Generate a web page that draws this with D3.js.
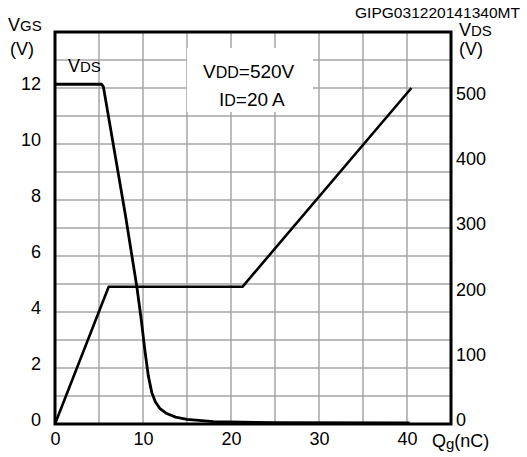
<!DOCTYPE html>
<html><head><meta charset="utf-8">
<script src="https://cdn.jsdelivr.net/npm/d3@7"></script>
<style>
html,body{margin:0;padding:0;background:#fff;}
svg{display:block;font-family:"Liberation Sans",Arial,sans-serif;}
</style></head>
<body>
<script>
// ---- data ----
const qgVgs = [0, 6.1, 21.3, 40.5];
const vgsValues = [0, 4.9, 4.9, 12.0];
const qgVds = [0, 5.3, 5.5, 8.0, 9.3, 9.8, 10.2, 10.6, 11.0, 11.4, 11.9, 12.7, 13.7, 15.0, 18.0, 25.0, 40.3];
const vdsValues = [520, 520, 516, 320, 210, 160, 114, 74, 48, 34, 24, 16, 10.5, 7, 3.5, 2, 1.5];
const xTicks = [0, 10, 20, 30, 40];
const vgsTicks = [0, 2, 4, 6, 8, 10, 12];
const vdsTicks = [0, 100, 200, 300, 400, 500];
const docCode = "GIPG031220141340MT";

const W = 527, H = 457;
const svg = d3.select("body").append("svg").attr("width", W).attr("height", H);
const L = 55, R = 451, T = 32, B = 424;
const x = d3.scaleLinear().domain([0, 45]).range([L, R]);
const yL = d3.scaleLinear().domain([0, 14]).range([B, T]);
const yR = d3.scaleLinear().domain([0, 600]).range([B, T]);

// grid
const grid = svg.append("g").attr("stroke", "#a6a6a6").attr("stroke-width", 1.5);
grid.selectAll("line.v").data(d3.range(5, 45, 5)).join("line")
  .attr("x1", d => x(d)).attr("x2", d => x(d)).attr("y1", T).attr("y2", B);
grid.selectAll("line.h").data(d3.range(1, 14, 1)).join("line")
  .attr("y1", d => yL(d)).attr("y2", d => yL(d)).attr("x1", L).attr("x2", R);

// white box behind annotation
svg.append("rect").attr("x", 187).attr("y", 48).attr("width", 126).attr("height", 64).attr("fill", "#fff");

// frame
svg.append("rect").attr("x", L).attr("y", T).attr("width", R - L).attr("height", B - T)
  .attr("fill", "none").attr("stroke", "#000").attr("stroke-width", 3);

// curves
const lineVgs = d3.line().x((d, i) => x(qgVgs[i])).y(d => yL(d));
svg.append("path").attr("d", lineVgs(vgsValues)).attr("fill", "none")
  .attr("stroke", "#000").attr("stroke-width", 2.6).attr("stroke-linejoin", "round");
const lineVds = d3.line().x((d, i) => x(qgVds[i])).y(d => yR(d));
svg.append("path").attr("d", lineVds(vdsValues)).attr("fill", "none")
  .attr("stroke", "#000").attr("stroke-width", 2.8).attr("stroke-linejoin", "round");

// axes (labels only)
const fs = 18;
const axL = d3.axisLeft(yL).tickValues(vgsTicks).tickSize(0).tickPadding(14);
svg.append("g").attr("transform", `translate(${L},0)`).call(axL)
  .call(g => g.select(".domain").remove())
  .selectAll("text").attr("font-size", fs).attr("font-family", "Liberation Sans, Arial").attr("fill", "#000").attr("dy", "0.1em");
const axR = d3.axisRight(yR).tickValues(vdsTicks).tickSize(0).tickPadding(5);
svg.append("g").attr("transform", `translate(${R},0)`).call(axR)
  .call(g => g.select(".domain").remove())
  .selectAll("text").attr("font-size", fs).attr("font-family", "Liberation Sans, Arial").attr("fill", "#000").attr("dy", "0.1em");
const axB = d3.axisBottom(x).tickValues(xTicks).tickSize(0).tickPadding(8);
svg.append("g").attr("transform", `translate(0,${B})`).call(axB)
  .call(g => g.select(".domain").remove())
  .selectAll("text").attr("font-size", fs).attr("font-family", "Liberation Sans, Arial").attr("fill", "#000");

// labels with subscript-style
function label(xp, yp, parts, anchor) {
  const t = svg.append("text").attr("x", xp).attr("y", yp).attr("fill", "#000")
    .attr("text-anchor", anchor || "start");
  parts.forEach(p => t.append("tspan").attr("font-size", p[1]).attr("dy", p[2] || 0).text(p[0]));
  return t;
}
label(8, 31, [["V", 18], ["GS", 15]]);
label(10, 55, [["(V)", 18]]);
label(459, 36, [["V", 18], ["DS", 15]]);
label(459, 55, [["(V)", 18]]);
label(68, 72, [["V", 18], ["DS", 15]]);
label(203, 78, [["V", 19], ["DD", 16], ["=520V", 19]]);
label(219, 106, [["I", 19], ["D", 16], ["=20", 19], ["\u2009A", 19]]);
label(432, 447, [["Q", 18], ["g", 15, 2], ["(nC)", 18, -2]]);
svg.append("text").attr("x", 355).attr("y", 18).attr("font-size", 14.5)
  .attr("textLength", 165).attr("lengthAdjust", "spacingAndGlyphs").attr("fill", "#000").text(docCode);
</script>
</body></html>
